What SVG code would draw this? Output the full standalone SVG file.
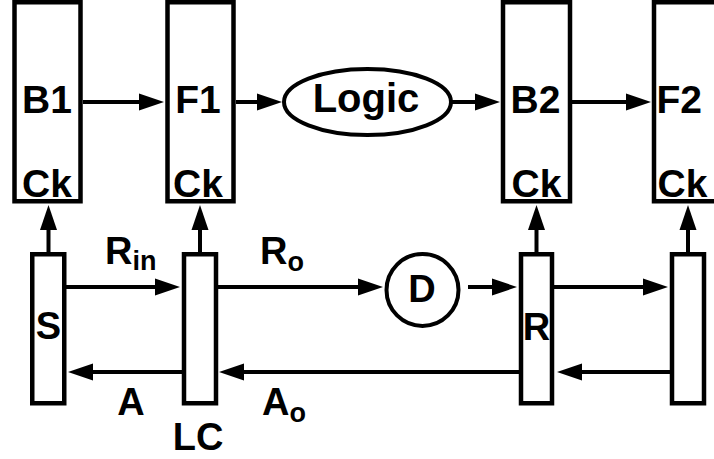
<svg xmlns="http://www.w3.org/2000/svg" width="714" height="459" viewBox="0 0 714 459">
<style>
.box{fill:#fff;stroke:#000;stroke-width:4.5}
.shape{fill:#fff;stroke:#000;stroke-width:4}
.t{font-family:"Liberation Sans",Arial,sans-serif;font-weight:bold;fill:#000}
.big{font-size:39px}
.mid{font-size:38px}
.c{text-anchor:middle}
.w{fill:none;stroke:#000;stroke-width:4;marker-end:url(#ah)}
</style>
<defs>
<marker id="ah" markerUnits="userSpaceOnUse" markerWidth="26" markerHeight="18" viewBox="0 0 26 18" refX="13" refY="9" orient="auto">
<path d="M0,0.5 L25,9 L0,17.5 z" fill="#000"/>
</marker>
</defs>
<rect width="714" height="459" fill="#fff"/>
<g id="B1">
<rect class="box" x="14.5" y="2.25" width="66" height="199"/>
<text class="t big c" x="47" y="113">B1</text>
<text class="t big c" x="47" y="197">Ck</text>
</g>
<g id="F1">
<rect class="box" x="167.5" y="2.25" width="66" height="199"/>
<text class="t big c" x="198" y="113">F1</text>
<text class="t big c" x="198" y="197">Ck</text>
</g>
<g id="Logic">
<ellipse class="shape" cx="367.5" cy="102" rx="83.5" ry="33"/>
<text class="t c" font-size="40" x="366" y="112">Logic</text>
</g>
<g id="B2">
<rect class="box" x="503" y="2.25" width="67" height="199"/>
<text class="t big c" x="535.5" y="113">B2</text>
<text class="t big c" x="536.5" y="197">Ck</text>
</g>
<g id="F2">
<rect class="box" x="654" y="2.25" width="80" height="199"/>
<text class="t big" x="656.5" y="113">F2</text>
<text class="t big" x="657.5" y="197">Ck</text>
</g>
<g id="S">
<rect class="box" x="32.25" y="254.25" width="32" height="149"/>
<text class="t mid c" x="48.5" y="339">S</text>
</g>
<g id="LC">
<rect class="box" x="184" y="254.25" width="32" height="149"/>
<text class="t mid c" x="198" y="450">LC</text>
</g>
<g id="D">
<circle class="shape" cx="422.5" cy="290" r="36"/>
<text class="t mid c" x="422" y="302">D</text>
</g>
<g id="R">
<rect class="box" x="521" y="254.25" width="31" height="149"/>
<text class="t mid c" x="536.5" y="340">R</text>
</g>
<g id="RightCtl">
<rect class="box" x="672" y="254.25" width="32" height="149"/>
</g>
<g id="connectors">
<path class="w" d="M83,102 H152"/>
<path class="w" d="M236,102 H270"/>
<path class="w" d="M451,102 H488"/>
<path class="w" d="M572,102 H639"/>
<path class="w" d="M48.5,252 V217"/>
<path class="w" d="M200,252 V217"/>
<path class="w" d="M536.5,252 V217"/>
<path class="w" d="M688,252 V217"/>
<path class="w" d="M66,287 H168"/>
<path class="w" d="M218,287 H371"/>
<path class="w" d="M468,287 H505"/>
<path class="w" d="M554,287 H656"/>
<path class="w" d="M670,372 H569"/>
<path class="w" d="M519,372 H231"/>
<path class="w" d="M182,372 H80"/>
</g>
<g id="labels">
<text class="t mid" x="105" y="264">R<tspan font-size="27" dy="6">in</tspan></text>
<text class="t mid" x="260" y="264">R<tspan font-size="27" dy="7">o</tspan></text>
<text class="t mid c" x="131" y="415">A</text>
<text class="t mid" x="262" y="415">A<tspan font-size="27" dy="7">o</tspan></text>
</g>
</svg>
